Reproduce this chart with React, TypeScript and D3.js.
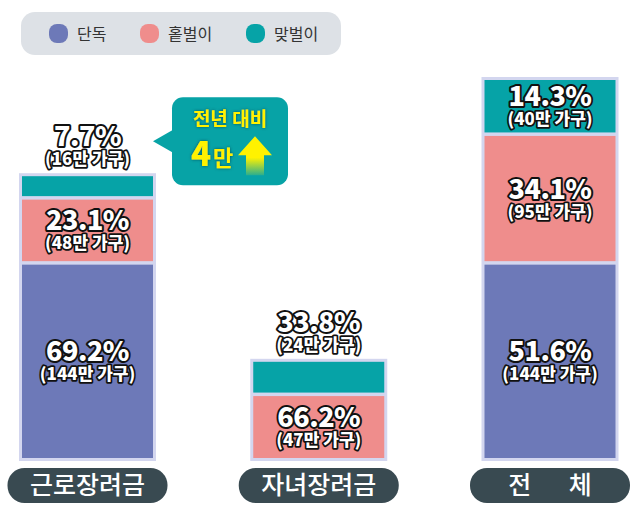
import * as d3 from "d3";

// categories on the x axis
const categories = ["근로장려금", "자녀장려금", "전체"];
const categoryLabels = ["근로장려금", "자녀장려금", "전\u2003\u2002체"];

// household types (stack order bottom -> top)
const groups = ["단독", "홑벌이", "맞벌이"];
const groupColors = ["#6d79b8", "#ef8d8c", "#06a3a7"];

// households, 만 가구
const singleCounts = [144, 0, 144];
const singleEarnerCounts = [48, 47, 95];
const dualEarnerCounts = [16, 24, 40];

// share within each category, %
const singleShares = [69.2, 0, 51.6];
const singleEarnerShares = [23.1, 66.2, 34.1];
const dualEarnerShares = [7.7, 33.8, 14.3];

// callout
const calloutTitle = "전년 대비";
const calloutValue = "4";
const calloutUnit = "만";

const W = 640;
const H = 509;
const FONT = "'Noto Sans CJK KR', 'Noto Sans', sans-serif";

export default function App() {
  const counts = [singleCounts, singleEarnerCounts, dualEarnerCounts];
  const shares = [singleShares, singleEarnerShares, dualEarnerShares];

  const rows = categories.map((c, i) => {
    const r: Record<string, number | string> = { category: c };
    groups.forEach((g, k) => (r[g] = counts[k][i]));
    return r;
  });
  const series = d3.stack<any>().keys(groups)(rows as any);
  const totals = categories.map((_, i) => d3.sum(counts, (a) => a[i]));

  const x = d3.scalePoint<string>().domain(categories).range([87.5, 550]);
  const y = d3
    .scaleLinear()
    .domain([0, d3.max(totals) as number])
    .range([458, 80]);

  const barW = 131;
  const border = 3;
  const gap = 1.75;

  const pctStyle = {
    fontFamily: FONT,
    fontWeight: 900,
    fill: "#fff",
    stroke: "#111",
    strokeWidth: 4,
    strokeLinejoin: "round" as const,
    paintOrder: "stroke" as const,
    textAnchor: "middle" as const,
  };

  const leftX1 = (x(categories[0]) as number) + barW / 2;
  const leftTop = y(totals[0]) - border;
  const cx0 = leftX1 + 19;
  const cy0 = leftTop - 76;
  const cw = 116;
  const ch = 88;

  return (
    <div style={{ position: "absolute", left: 0, top: 0 }}>
      <svg width={W} height={H} style={{ display: "block" }}>
        <defs>
          <linearGradient id="arrowGrad" x1="0" y1="0" x2="0" y2="1">
            <stop offset="0" stopColor="#fff200" />
            <stop offset="0.55" stopColor="#fff200" />
            <stop offset="1" stopColor="#fff200" stopOpacity="0.15" />
          </linearGradient>
          <filter id="glow" x="-20%" y="-20%" width="140%" height="140%">
            <feDropShadow dx="0" dy="0" stdDeviation="1.6" floodColor="#00474d" floodOpacity="0.9" />
          </filter>
        </defs>
        <rect width={W} height={H} fill="#fff" />

        {/* legend */}
        <rect x={21} y={12} width={320} height={43} rx={14} fill="#dde1e6" />
        {groups.map((g, k) => {
          const lx = [49, 140, 246][k];
          return (
            <g key={g}>
              <rect x={lx} y={24} width={19} height={19} rx={8} fill={groupColors[k]} />
              <text x={lx + 28} y={40} fontFamily={FONT} fontSize={16} fill="#333">
                {g}
              </text>
            </g>
          );
        })}

        {/* bars */}
        {categories.map((c, i) => {
          const cx = x(c) as number;
          const x0 = cx - barW / 2;
          const total = totals[i];
          const outerTop = y(total) - border;
          const segs = series
            .map((s, k) => ({ k, v0: s[i][0], v1: s[i][1], count: counts[k][i], share: shares[k][i] }))
            .filter((d) => d.count > 0);
          return (
            <g key={c}>
              <rect
                x={x0 - border}
                y={outerTop}
                width={barW + border * 2}
                height={y(0) - y(total) + border * 2}
                fill="#d3d6ef"
              />
              {segs.map((d) => {
                const top = y(d.v1) + (d.v1 < total ? gap : 0);
                const bottom = y(d.v0) - (d.v0 > 0 ? gap : 0);
                const h = bottom - top;
                const inside = h >= 40;
                const pctY = inside ? (top + bottom) / 2 : outerTop - 27;
                const subY = inside ? pctY + 19 : outerTop - 8;
                return (
                  <g key={d.k}>
                    <rect x={x0} y={top} width={barW} height={h} fill={groupColors[d.k]} />
                    <text x={cx} y={pctY} fontSize={27} letterSpacing={-0.5} style={pctStyle}>
                      {d.share.toFixed(1)}%
                    </text>
                    <text x={cx} y={subY} fontSize={17} style={{ ...pctStyle, strokeWidth: 3.5 }}>
                      ({d.count}만 가구)
                    </text>
                  </g>
                );
              })}
              {/* category pill */}
              <rect x={cx - 80} y={468} width={160} height={35} rx={17} fill="#394a51" />
              <text
                x={cx}
                y={494}
                textAnchor="middle"
                fontFamily={FONT}
                fontSize={25}
                fontWeight={500}
                fill="#fff"
              >
                {categoryLabels[i]}
              </text>
            </g>
          );
        })}

        {/* callout */}
        <g>
          <path
            d={`M${cx0 - 19},${cy0 + 44} L${cx0 + 2},${cy0 + 32} L${cx0 + 2},${cy0 + 56} Z`}
            fill="#07a3a6"
          />
          <rect x={cx0} y={cy0} width={cw} height={ch} rx={11} fill="#07a3a6" />
          <text
            x={cx0 + cw / 2}
            y={cy0 + 29}
            textAnchor="middle"
            fontFamily={FONT}
            fontWeight={700}
            fontSize={19}
            fill="#fff200"
            filter="url(#glow)"
          >
            {calloutTitle}
          </text>
          <text
            x={cx0 + 19}
            y={cy0 + 69}
            fontFamily={FONT}
            fontWeight={900}
            fill="#fff200"
            filter="url(#glow)"
          >
            <tspan fontSize={33}>{calloutValue}</tspan>
            <tspan fontSize={22} fontWeight={700} dx={2}>
              {calloutUnit}
            </tspan>
          </text>
          <path
            d={`M${cx0 + 66},${cy0 + 58} L${cx0 + 83},${cy0 + 39} L${cx0 + 100},${cy0 + 58} L${cx0 + 92},${cy0 + 58} L${cx0 + 92},${cy0 + 78} L${cx0 + 74},${cy0 + 78} L${cx0 + 74},${cy0 + 58} Z`}
            fill="url(#arrowGrad)"
          />
        </g>
      </svg>
    </div>
  );
}
